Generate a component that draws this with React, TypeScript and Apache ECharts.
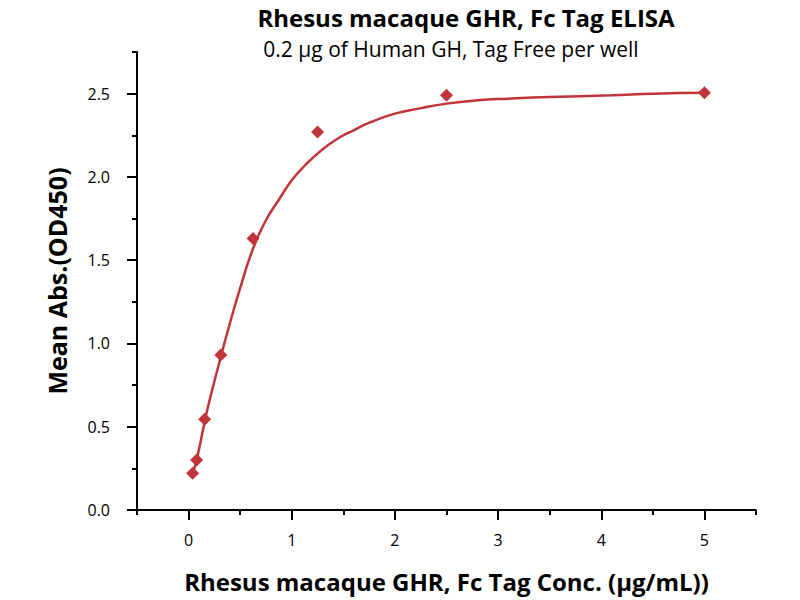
import React, { useEffect, useRef } from "react";
import * as echarts from "echarts";

const concentrations = [0.039, 0.078, 0.156, 0.3125, 0.625, 1.25, 2.5, 5];
const absorbances = [0.22, 0.3, 0.545, 0.93, 1.63, 2.27, 2.49, 2.505];

// fitted curve
const curveX = [0.039, 0.078, 0.156, 0.2, 0.3125, 0.4, 0.494, 0.625, 0.75, 0.872, 1.0, 1.13, 1.25, 1.42, 1.6, 1.77, 2.0, 2.23, 2.5, 2.8, 3.1, 3.5, 4.1, 4.5, 5];
const curveY = [0.22, 0.3, 0.53, 0.65, 0.92, 1.12, 1.32, 1.57, 1.74, 1.86, 1.98, 2.07, 2.14, 2.22, 2.28, 2.33, 2.38, 2.41, 2.44, 2.46, 2.47, 2.48, 2.49, 2.5, 2.505];

const xMajorTicks = [0, 1, 2, 3, 4, 5];
const yMajorTicks = [0, 0.5, 1, 1.5, 2, 2.5];

const titleText = "Rhesus macaque GHR, Fc Tag ELISA";
const subtitleText = "0.2 μg of Human GH, Tag Free per well";
const xName = "Rhesus macaque GHR, Fc Tag Conc. (μg/mL))";
const yName = "Mean Abs.(OD450)";

const RED = "#C1353A";
const FONT = "Open Sans";

export default function App() {
  const ref = useRef<HTMLDivElement>(null);
  useEffect(() => {
    if (!ref.current) return;
    const chart = echarts.init(ref.current, undefined, { renderer: "svg" });
    const axisLine = { show: true, onZero: false, lineStyle: { color: "#000", width: 2 } };
    chart.setOption({
      animation: false,
      backgroundColor: "#fff",
      title: [
        {
          text: titleText,
          left: 466,
          top: 4,
          padding: 0,
          textAlign: "center",
          textStyle: { fontFamily: FONT, fontSize: 24, lineHeight: 26, fontWeight: "bold", color: "#000" },
        },
        {
          text: subtitleText,
          left: 451,
          top: 37,
          padding: 0,
          textAlign: "center",
          textStyle: { fontFamily: FONT, fontSize: 21, lineHeight: 24, fontWeight: "normal", color: "#000" },
        },
      ],
      grid: { left: 137, right: 44, top: 52, bottom: 90, containLabel: false },
      xAxis: [
        {
          type: "value",
          min: -0.5,
          max: 5.5,
          interval: 0.5,
          position: "bottom",
          axisLine,
          axisTick: { show: true, length: 5, lineStyle: { color: "#000", width: 2 } },
          axisLabel: { show: false },
          splitLine: { show: false },
          name: xName,
          nameLocation: "middle",
          nameGap: 59,
          nameTextStyle: { fontFamily: FONT, fontSize: 24, fontWeight: "bold", color: "#000" },
        },
        {
          type: "value",
          min: -0.5,
          max: 5.5,
          interval: 0.5,
          position: "bottom",
          offset: 0,
          axisLine: { show: false, onZero: false },
          axisTick: { show: true, length: 10, customValues: xMajorTicks, lineStyle: { color: "#000", width: 2 } },
          axisLabel: {
            show: true,
            customValues: xMajorTicks,
            margin: 22,
            fontFamily: FONT,
            fontSize: 16,
            color: "#000",
          },
          splitLine: { show: false },
        },
      ],
      yAxis: [
        {
          type: "value",
          min: 0,
          max: 2.75,
          interval: 0.25,
          position: "left",
          axisLine,
          axisTick: { show: true, length: 5, lineStyle: { color: "#000", width: 2 } },
          axisLabel: { show: false },
          splitLine: { show: false },
          name: yName,
          nameLocation: "middle",
          nameGap: 68,
          nameTextStyle: { fontFamily: FONT, fontSize: 25, fontWeight: "bold", color: "#000" },
        },
        {
          type: "value",
          min: 0,
          max: 2.75,
          interval: 0.25,
          position: "left",
          offset: 0,
          axisLine: { show: false, onZero: false },
          axisTick: { show: true, length: 10, customValues: yMajorTicks, lineStyle: { color: "#000", width: 2 } },
          axisLabel: {
            show: true,
            customValues: yMajorTicks,
            margin: 27,
            formatter: (v: number) => v.toFixed(1),
            fontFamily: FONT,
            fontSize: 16,
            color: "#000",
          },
          splitLine: { show: false },
        },
      ],
      series: [
        {
          type: "line",
          xAxisIndex: 0,
          yAxisIndex: 0,
          data: curveX.map((x, i) => [x, curveY[i]]),
          smooth: 0.5,
          showSymbol: false,
          symbol: "none",
          lineStyle: { color: RED, width: 2.5 },
          z: 2,
        },
        {
          type: "scatter",
          xAxisIndex: 0,
          yAxisIndex: 0,
          data: concentrations.map((x, i) => [x, absorbances[i]]),
          symbol: "diamond",
          symbolSize: [13, 13],
          itemStyle: { color: RED, opacity: 1 },
          z: 3,
        },
      ],
    });
    return () => chart.dispose();
  }, []);
  return <div ref={ref} style={{ width: 800, height: 600, position: "absolute", left: 0, top: 0 }} />;
}
